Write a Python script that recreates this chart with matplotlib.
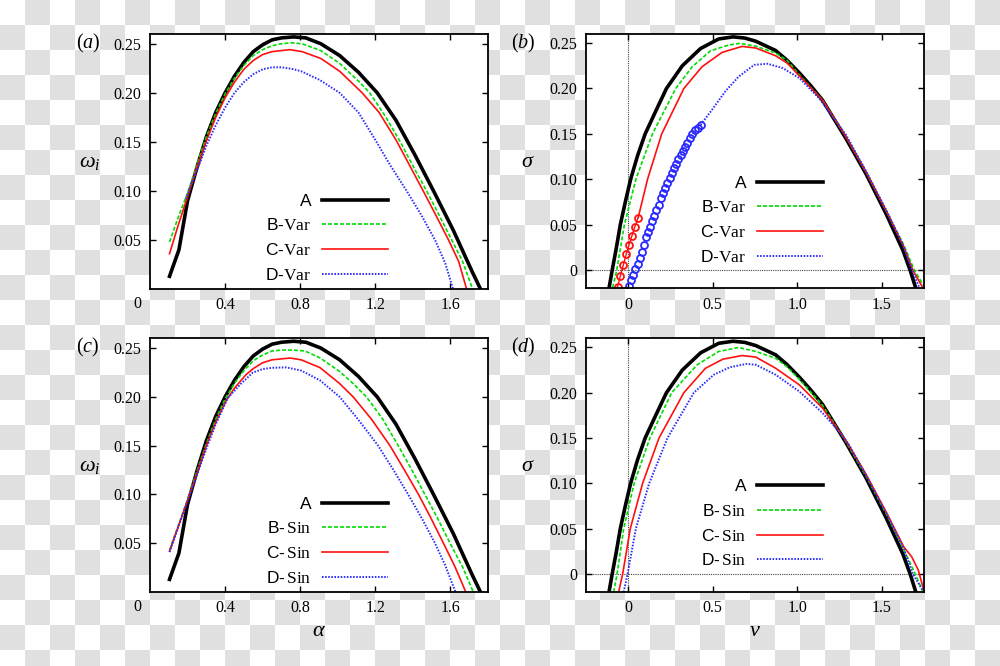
import matplotlib
matplotlib.use('Agg')
import matplotlib.pyplot as plt
import numpy as np

plt.rcParams['font.family'] = ['Liberation Sans', 'DejaVu Sans']
plt.rcParams['mathtext.fontset'] = 'custom'
plt.rcParams['mathtext.rm'] = 'Liberation Serif'
plt.rcParams['mathtext.it'] = 'Liberation Serif:italic'
plt.rcParams['mathtext.bf'] = 'Liberation Serif:bold'

# ---- panel (a)/(c): omega_i vs alpha ----
alpha_A = [0.104, 0.154, 0.20, 0.25, 0.30, 0.35, 0.40, 0.45, 0.50, 0.55, 0.60, 0.65, 0.70,
           0.765, 0.83, 0.91, 1.01, 1.11, 1.21, 1.31, 1.41, 1.51, 1.615, 1.715, 1.76]
omega_A = [0.013, 0.040, 0.090, 0.124, 0.155, 0.180, 0.200, 0.217, 0.231, 0.242, 0.249, 0.254, 0.256,
           0.257, 0.256, 0.250, 0.238, 0.221, 0.200, 0.172, 0.137, 0.100, 0.060, 0.018, 0.0]

alpha_Bv = [0.104, 0.15, 0.20, 0.25, 0.30, 0.35, 0.40, 0.45, 0.50, 0.55, 0.60, 0.65, 0.70, 0.755,
            0.81, 0.91, 1.01, 1.11, 1.17, 1.25, 1.33, 1.41, 1.473, 1.543, 1.607, 1.665, 1.718]
omega_Bv = [0.048, 0.073, 0.098, 0.127, 0.155, 0.179, 0.199, 0.215, 0.228, 0.238, 0.244, 0.248, 0.250, 0.251,
            0.250, 0.243, 0.230, 0.212, 0.200, 0.177, 0.151, 0.122, 0.100, 0.074, 0.050, 0.028, 0.0]
alpha_Cv = [0.104, 0.15, 0.20, 0.25, 0.30, 0.35, 0.40, 0.45, 0.50, 0.55, 0.60, 0.65, 0.745,
            0.81, 0.91, 1.01, 1.13, 1.22, 1.31, 1.38, 1.455, 1.523, 1.59, 1.644, 1.686]
omega_Cv = [0.036, 0.065, 0.094, 0.124, 0.151, 0.175, 0.195, 0.211, 0.224, 0.233, 0.239, 0.242, 0.244,
            0.242, 0.235, 0.222, 0.200, 0.180, 0.152, 0.127, 0.100, 0.075, 0.050, 0.028, 0.0]
alpha_Dv = [0.19, 0.22, 0.25, 0.30, 0.35, 0.40, 0.45, 0.50, 0.55, 0.60, 0.65, 0.70,
            0.755, 0.805, 0.905, 1.01, 1.11, 1.20, 1.28, 1.367, 1.443, 1.518, 1.573, 1.614]
omega_Dv = [0.092, 0.107, 0.121, 0.146, 0.167, 0.185, 0.200, 0.211, 0.219, 0.224, 0.226, 0.226,
            0.2245, 0.222, 0.213, 0.200, 0.180, 0.152, 0.126, 0.100, 0.076, 0.050, 0.026, 0.0]

alpha_Bs = [0.104, 0.15, 0.20, 0.25, 0.30, 0.35, 0.40, 0.45, 0.50, 0.55, 0.60, 0.65, 0.70, 0.76,
            0.825, 0.905, 1.01, 1.08, 1.153, 1.24, 1.322, 1.392, 1.464, 1.533, 1.598, 1.664, 1.722]
omega_Bs = [0.043, 0.068, 0.095, 0.124, 0.152, 0.177, 0.198, 0.214, 0.227, 0.237, 0.243, 0.247, 0.248, 0.248,
            0.247, 0.240, 0.226, 0.214, 0.200, 0.177, 0.150, 0.126, 0.100, 0.075, 0.050, 0.026, 0.0]
alpha_Cs = [0.104, 0.15, 0.20, 0.25, 0.30, 0.35, 0.405, 0.45, 0.51, 0.55, 0.60, 0.65, 0.745,
            0.805, 0.905, 1.008, 1.082, 1.18, 1.278, 1.352, 1.43, 1.493, 1.563, 1.624, 1.682]
omega_Cs = [0.042, 0.067, 0.094, 0.122, 0.150, 0.174, 0.196, 0.209, 0.2225, 0.229, 0.235, 0.238, 0.2398,
            0.238, 0.230, 0.214, 0.200, 0.177, 0.150, 0.126, 0.100, 0.077, 0.050, 0.026, 0.0]
alpha_Ds = [0.104, 0.15, 0.20, 0.25, 0.30, 0.35, 0.415, 0.482, 0.548, 0.60, 0.65, 0.726,
            0.805, 0.905, 1.01, 1.108, 1.215, 1.30, 1.375, 1.452, 1.518, 1.573, 1.627]
omega_Ds = [0.041, 0.066, 0.093, 0.120, 0.147, 0.172, 0.199, 0.213, 0.225, 0.2285, 0.2298, 0.2302,
            0.227, 0.217, 0.200, 0.177, 0.150, 0.124, 0.100, 0.074, 0.050, 0.027, 0.0]

# ---- panel (b)/(d): sigma vs v ----
v_A = [-0.113, -0.095, -0.070, -0.047, -0.015, 0.014, 0.055, 0.100, 0.16, 0.226, 0.32, 0.428, 0.535,
       0.62, 0.69, 0.755, 0.872, 0.94, 1.012, 1.08, 1.15, 1.288, 1.407, 1.526, 1.625, 1.668, 1.70]
s_A = [-0.019, 0.0, 0.025, 0.050, 0.077, 0.100, 0.126, 0.150, 0.174, 0.200, 0.225, 0.244, 0.2545,
       0.2568, 0.2555, 0.252, 0.2418, 0.231, 0.2172, 0.203, 0.187, 0.145, 0.106, 0.062, 0.022, 0.0, -0.019]

v_Bv = [-0.092, -0.068, -0.023, 0.045, 0.143, 0.281, 0.379, 0.487, 0.594, 0.66, 0.755, 0.872, 0.94,
        1.012, 1.15, 1.288, 1.407, 1.53, 1.63, 1.693, 1.745]
s_Bv = [-0.019, 0.0, 0.050, 0.100, 0.150, 0.200, 0.224, 0.2415, 0.2478, 0.2497, 0.2465, 0.239, 0.231,
        0.215, 0.187, 0.147, 0.108, 0.064, 0.028, 0.0, -0.016]
# C-Var: part with circles, then plain line
v_Cc = [-0.063, -0.047, -0.029, -0.012, 0.004, 0.022, 0.039, 0.059]
s_Cc = [-0.018, -0.0065, 0.0059, 0.0176, 0.0275, 0.038, 0.048, 0.058]
v_Cl = [0.059, 0.114, 0.198, 0.329, 0.437, 0.555, 0.673, 0.755, 0.872, 0.94, 1.012, 1.15, 1.288,
        1.407, 1.53, 1.63, 1.684, 1.742]
s_Cl = [0.058, 0.100, 0.150, 0.200, 0.224, 0.2397, 0.2463, 0.2445, 0.236, 0.228, 0.214, 0.187, 0.147,
        0.108, 0.064, 0.026, 0.0, -0.019]
# D-Var: part with circles, then dotted line
v_Dc = [0.006, 0.018, 0.030, 0.042, 0.055, 0.067, 0.080, 0.092, 0.104, 0.116, 0.128, 0.141, 0.153,
        0.166, 0.180, 0.193, 0.206, 0.219, 0.232, 0.245, 0.257, 0.270, 0.283, 0.297, 0.310, 0.323,
        0.337, 0.350, 0.363, 0.380, 0.396, 0.412, 0.428]
s_Dc = [-0.017, -0.011, -0.005, 0.001, 0.007, 0.0135, 0.0205, 0.028, 0.036, 0.042, 0.048, 0.054, 0.060,
        0.066, 0.072, 0.079, 0.085, 0.090, 0.096, 0.101, 0.107, 0.112, 0.117, 0.122, 0.127, 0.131,
        0.136, 0.140, 0.145, 0.150, 0.154, 0.157, 0.160]
v_Dl = [0.428, 0.496, 0.575, 0.653, 0.745, 0.824, 0.913, 1.012, 1.131, 1.288, 1.407, 1.53, 1.63, 1.679, 1.722]
s_Dl = [0.160, 0.1766, 0.197, 0.213, 0.226, 0.2272, 0.2225, 0.2115, 0.189, 0.149, 0.109, 0.065, 0.026, 0.0, -0.019]

v_Bs = [-0.086, -0.066, -0.027, 0.035, 0.128, 0.257, 0.408, 0.535, 0.653, 0.755, 0.872, 0.94, 1.012,
        1.15, 1.288, 1.407, 1.53, 1.63, 1.698, 1.742]
s_Bs = [-0.02, 0.0, 0.050, 0.100, 0.150, 0.200, 0.2308, 0.2455, 0.2499, 0.2455, 0.238, 0.2285, 0.215,
        0.186, 0.146, 0.108, 0.065, 0.027, 0.0, -0.019]
v_Cs = [-0.057, -0.033, 0.012, 0.085, 0.182, 0.329, 0.457, 0.56, 0.673, 0.755, 0.872, 1.012,
        1.15, 1.288, 1.407, 1.53, 1.63, 1.677, 1.716, 1.748]
s_Cs = [-0.02, 0.0, 0.050, 0.100, 0.150, 0.200, 0.227, 0.237, 0.241, 0.2393, 0.227, 0.2087,
        0.183, 0.147, 0.110, 0.067, 0.030, 0.019, 0.0044, -0.0176]
v_Ds = [-0.027, -0.004, 0.045, 0.124, 0.232, 0.388, 0.506, 0.60, 0.70, 0.755, 0.872, 1.012,
        1.15, 1.258, 1.308, 1.407, 1.53, 1.63, 1.684, 1.745]
s_Ds = [-0.02, 0.0, 0.050, 0.100, 0.150, 0.200, 0.2198, 0.228, 0.2318, 0.2308, 0.2198, 0.2014,
        0.1775, 0.155, 0.142, 0.109, 0.066, 0.028, 0.0, -0.019]

labels_var = ['A', 'B-$\\mathrm{Var}$', 'C-$\\mathrm{Var}$', 'D-$\\mathrm{Var}$']
labels_sin = ['A', 'B-$\\,\\mathrm{Sin}$', 'C-$\\,\\mathrm{Sin}$', 'D-$\\,\\mathrm{Sin}$']

alpha_ticks = [0.4, 0.8, 1.2, 1.6]
omega_ticks = [0.05, 0.10, 0.15, 0.20, 0.25]
v_ticks = [0, 0.5, 1.0, 1.5]
sigma_ticks = [0, 0.05, 0.10, 0.15, 0.20, 0.25]

A_ST = dict(color='black', lw=2.6)
B_ST = dict(color='#00dd00', lw=1.2, ls=(0, (2.4, 1.2)))
C_ST = dict(color='#ff1010', lw=1.2)
D_ST = dict(color='#2a2aff', lw=1.4, ls=(0, (0.8, 0.8)))
SERIF = 'Liberation Serif'
LEG = dict(loc='lower right', frameon=False, markerfirst=False, handlelength=3.8,
           handletextpad=0.6, labelspacing=0.5, borderpad=0, borderaxespad=0, fontsize=12.5)

fig = plt.figure(figsize=(10, 6.66), dpi=100)

# transparent-background checkerboard as in the reference
yy, xx = np.mgrid[0:666, 0:1000]
odd = ((yy // 25 + xx // 25) % 2) == 1
bg = np.full((666, 1000, 3), 255, dtype=np.uint8)
bg[odd] = 224
fig.figimage(bg, 0, 0, zorder=-10)

ax_a = fig.add_axes([0.150, 0.566, 0.338, 0.383])
ax_b = fig.add_axes([0.586, 0.567, 0.338, 0.382])
ax_c = fig.add_axes([0.150, 0.111, 0.338, 0.381])
ax_d = fig.add_axes([0.586, 0.111, 0.338, 0.381])


def style_axes(ax, xt, xl, yt, yl):
    ax.set_facecolor('white')
    ax.set_xticks(xt)
    ax.set_xticklabels(xl, fontfamily=SERIF, fontsize=11.5)
    ax.set_yticks(yt)
    ax.set_yticklabels(yl, fontfamily=SERIF, fontsize=11.5)
    ax.tick_params(direction='in', top=True, right=True, length=4, width=1, pad=6)
    for sp in ax.spines.values():
        sp.set_linewidth(1.3)


# (a) and (c)
for ax, B, C, D, labs, tag in [
        (ax_a, (alpha_Bv, omega_Bv), (alpha_Cv, omega_Cv), (alpha_Dv, omega_Dv), labels_var, 'a'),
        (ax_c, (alpha_Bs, omega_Bs), (alpha_Cs, omega_Cs), (alpha_Ds, omega_Ds), labels_sin, 'c')]:
    ax.plot(alpha_A, omega_A, label=labs[0], **A_ST)
    ax.plot(*B, label=labs[1], **B_ST)
    ax.plot(*C, label=labs[2], **C_ST)
    ax.plot(*D, label=labs[3], **D_ST)
    ax.set_xlim(0, 1.8)
    ax.set_ylim(0, 0.26)
    style_axes(ax, alpha_ticks, ['0.4', '0.8', '1.2', '1.6'],
               omega_ticks, ['0.05', '0.10', '0.15', '0.20', '0.25'])
    ax.text(-0.036, -0.06, '0', transform=ax.transAxes, ha='center', va='center',
            fontfamily=SERIF, fontsize=11.5)
    ax.set_ylabel(r'$\omega_i$', rotation=0, fontsize=16, va='center', ha='center')
    ax.yaxis.set_label_coords(-0.178, 0.5)
    ax.text(-0.183, 0.962, r'$(\mathit{%s})$' % tag, transform=ax.transAxes,
            ha='center', va='center', fontsize=14.5)
    ax.legend(bbox_to_anchor=(0.704, 0.025), **LEG)

# (b) and (d)
for ax in [ax_b, ax_d]:
    ax.axhline(0, color='#444444', lw=0.8, ls=(0, (1, 1)), zorder=1)
    ax.axvline(0, color='#444444', lw=0.8, ls=(0, (1, 1)), zorder=1)

ax_b.plot(v_A, s_A, label=labels_var[0], **A_ST)
ax_b.plot(v_Bv, s_Bv, label=labels_var[1], **B_ST)
ax_b.plot(v_Cl, s_Cl, label=labels_var[2], **C_ST)
ax_b.plot(v_Cc, s_Cc, color=C_ST['color'], lw=1.0, marker='o', ms=5, mfc='none', mew=1.3)
ax_b.plot(v_Dl, s_Dl, label=labels_var[3], **D_ST)
ax_b.plot(v_Dc, s_Dc, color=D_ST['color'], lw=0, marker='o', ms=5, mfc='none', mew=1.3)

ax_d.plot(v_A, s_A, label=labels_sin[0], **A_ST)
ax_d.plot(v_Bs, s_Bs, label=labels_sin[1], **B_ST)
ax_d.plot(v_Cs, s_Cs, label=labels_sin[2], **C_ST)
ax_d.plot(v_Ds, s_Ds, label=labels_sin[3], **D_ST)

for ax, tag in [(ax_b, 'b'), (ax_d, 'd')]:
    ax.set_xlim(-0.25, 1.75)
    ax.set_ylim(-0.02, 0.26)
    style_axes(ax, v_ticks, ['0', '0.5', '1.0', '1.5'],
               sigma_ticks, ['0', '0.05', '0.10', '0.15', '0.20', '0.25'])
    ax.set_ylabel(r'$\sigma$', rotation=0, fontsize=16, va='center', ha='center')
    ax.yaxis.set_label_coords(-0.172, 0.5)
    ax.text(-0.186, 0.962, r'$(\mathit{%s})$' % tag, transform=ax.transAxes,
            ha='center', va='center', fontsize=14.5)
    handles, labs = ax.get_legend_handles_labels()
    ax.legend(handles, labs, bbox_to_anchor=(0.701, 0.093), **LEG)

ax_c.set_xlabel(r'$\alpha$', fontsize=16, va='center')
ax_c.xaxis.set_label_coords(0.5, -0.15)
ax_d.set_xlabel(r'$v$', fontsize=16, va='center')
ax_d.xaxis.set_label_coords(0.5, -0.15)

fig.savefig('out.png', dpi=100)
